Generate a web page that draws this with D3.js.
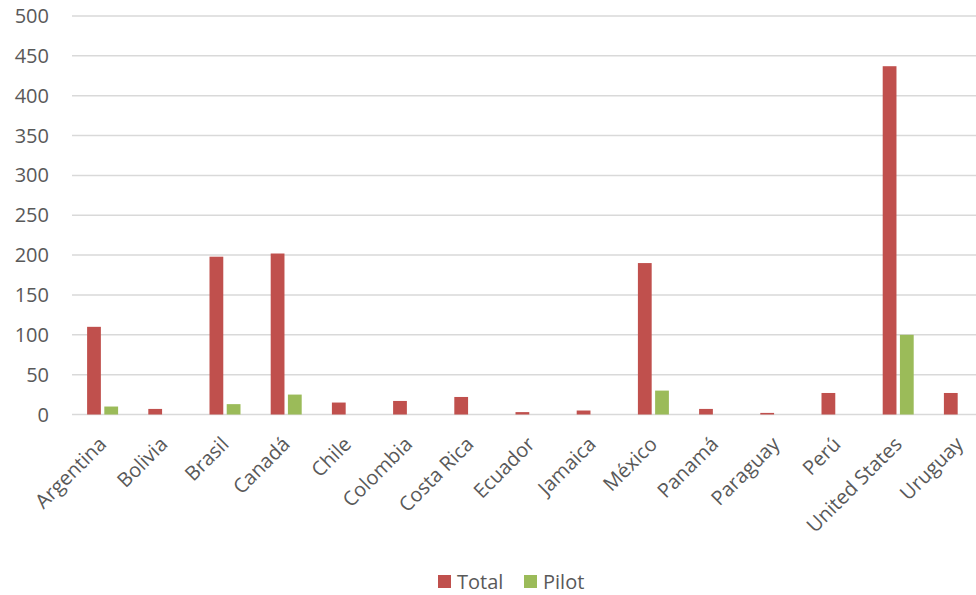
<!DOCTYPE html>
<html>
<head>
<meta charset="utf-8">
<script src="https://cdn.jsdelivr.net/npm/d3@7"></script>
<style>
  body { margin: 0; background: #fff; }
  text { font-family: "Open Sans", Lato, sans-serif; fill: #595959; }
</style>
</head>
<body>
<svg id="chart" width="976" height="595"></svg>
<script>
// Values
const countries = ["Argentina", "Bolivia", "Brasil", "Canadá", "Chile", "Colombia", "Costa Rica",
  "Ecuador", "Jamaica", "México", "Panamá", "Paraguay", "Perú", "United States", "Uruguay"];
const totalValues = [110, 7, 198, 202, 15, 17, 22, 3, 5, 190, 7, 2, 27, 437, 27];
const pilotValues = [10, 0, 13, 25, 0, 0, 0, 0, 0, 30, 0, 0, 0, 100, 0];
const seriesNames = ["Total", "Pilot"];
const yTicks = [0, 50, 100, 150, 200, 250, 300, 350, 400, 450, 500];

const COLORS = { Total: "#C0504D", Pilot: "#9BBB59" };

const svg = d3.select("#chart");
// the original plot area runs past the right edge of the picture
const margin = { top: 16, left: 72 };
const width = 918;
const height = 398.5;
const g = svg.append("g").attr("transform", `translate(${margin.left},${margin.top})`);

const x = d3.scaleBand().domain(countries).range([0, width]);
const x1 = d3.scaleBand().domain(seriesNames).range([0, 31]).paddingInner(0.2);
const y = d3.scaleLinear().domain([0, 500]).range([height, 0]);

// Gridlines
g.selectAll(".grid")
  .data(yTicks)
  .enter()
  .append("line")
  .attr("x1", 0)
  .attr("x2", width)
  .attr("y1", d => y(d))
  .attr("y2", d => y(d))
  .attr("stroke", "#d9d9d9")
  .attr("stroke-width", 1.5);

// Y labels
g.selectAll(".ylabel")
  .data(yTicks)
  .enter()
  .append("text")
  .attr("x", -23)
  .attr("y", d => y(d))
  .attr("dy", "0.35em")
  .attr("text-anchor", "end")
  .style("font-size", "20px")
  .text(d => d);

// Bars
const rows = countries.map((c, i) => ({ country: c, Total: totalValues[i], Pilot: pilotValues[i] }));
const groups = g.selectAll(".group")
  .data(rows)
  .enter()
  .append("g")
  .attr("transform", d => `translate(${x(d.country) + x.bandwidth() / 2 - 15.5},0)`);

groups.selectAll("rect")
  .data(d => seriesNames.map(s => ({ key: s, value: d[s] })).filter(v => v.value > 0))
  .enter()
  .append("rect")
  .attr("x", d => x1(d.key))
  .attr("width", x1.bandwidth())
  .attr("y", d => y(d.value))
  .attr("height", d => y(0) - y(d.value))
  .attr("fill", d => COLORS[d.key]);

// X labels, rotated
g.selectAll(".xlabel")
  .data(countries)
  .enter()
  .append("text")
  .attr("text-anchor", "end")
  .style("font-size", "20px")
  .attr("transform", d => `translate(${x(d) + x.bandwidth() / 2 + 5},${height + 31}) rotate(-45)`)
  .text(d => d);

// Legend
const legend = svg.append("g").attr("transform", "translate(438,582)");
const legendItems = [{ name: "Total", x: 0 }, { name: "Pilot", x: 86 }];
legendItems.forEach(item => {
  legend.append("rect")
    .attr("x", item.x)
    .attr("y", -7)
    .attr("width", 13)
    .attr("height", 13)
    .attr("fill", COLORS[item.name]);
  legend.append("text")
    .attr("x", item.x + 19)
    .attr("y", 0)
    .attr("dy", "0.35em")
    .style("font-size", "20px")
    .text(item.name);
});
</script>
</body>
</html>
